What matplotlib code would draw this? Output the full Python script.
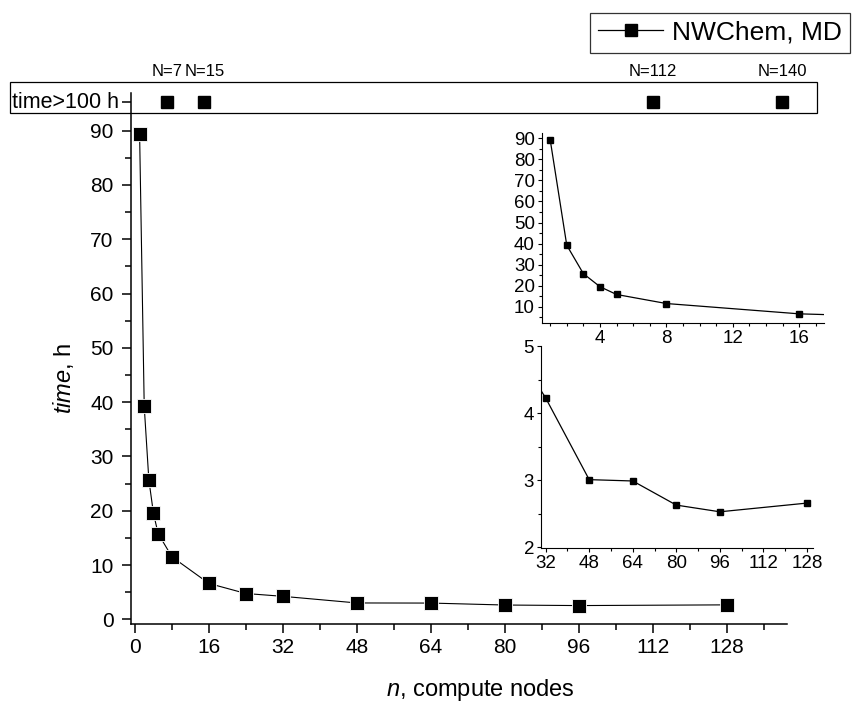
import matplotlib
matplotlib.use("Agg")
import matplotlib.pyplot as plt
from matplotlib.lines import Line2D
from matplotlib.patches import Rectangle
from matplotlib.ticker import MultipleLocator
import matplotlib.transforms as mtransforms

plt.rcParams["font.family"] = ["Liberation Sans", "DejaVu Sans"]
plt.rcParams["mathtext.fontset"] = "custom"
plt.rcParams["mathtext.rm"] = "Liberation Sans"
plt.rcParams["mathtext.it"] = "Liberation Sans:italic"

# ---- data ----
nodes = [1, 2, 3, 4, 5, 8, 16, 24, 32, 48, 64, 80, 96, 128]
hours = [89.4, 39.2, 25.7, 19.5, 15.8, 11.5, 6.6, 4.75, 4.23, 3.01, 2.99, 2.63, 2.53, 2.66]

# runs that took longer than 100 h
slow_nodes = [7, 15, 112, 140]
slow_labels = ["N=7", "N=15", "N=112", "N=140"]
slow_level = 95.2

W, H = 852, 707
fig = plt.figure(figsize=(W / 100, H / 100), dpi=100)


def px_axes(left, top, right, bottom):
    return fig.add_axes([left / W, 1 - bottom / H, (right - left) / W, (bottom - top) / H])


# ---- main plot ----
ax = px_axes(131, 92.7, 787, 623.7)
ax.plot(nodes, hours, color="black", lw=0.8, marker="s", ms=9.5,
        mfc="black", mec="white", mew=0.6, zorder=3)
ax.plot(slow_nodes, [slow_level] * len(slow_nodes), ls="none", marker="s", ms=9,
        color="black", clip_on=False, zorder=3)

ax.set_xlim(-0.86, 141)
ax.set_ylim(-0.81, 97.0)
ax.set_xticks(range(0, 129, 16))
ax.xaxis.set_minor_locator(MultipleLocator(8))
ax.set_yticks(list(range(0, 91, 10)) + [slow_level])
ax.set_yticklabels([str(v) for v in range(0, 91, 10)] + [""])
ax.set_yticks([v + 5 for v in range(0, 90, 10)], minor=True)
for s in ("top", "right"):
    ax.spines[s].set_visible(False)
for s in ("left", "bottom"):
    ax.spines[s].set_linewidth(1.1)
ax.tick_params(which="major", direction="out", length=6.5, width=1.1, labelsize=15)
ax.tick_params(axis="x", which="major", pad=4)
ax.tick_params(axis="y", which="major", pad=6)
ax.tick_params(which="minor", direction="out", length=4, width=1.1)
ax.set_facecolor("none")

# label of the >100 h row sits close to its tick
ytrans = mtransforms.blended_transform_factory(fig.transFigure, ax.transData)
ax.text(119 / W, slow_level, "time>100 h", transform=ytrans, ha="right",
        va="center", fontsize=15.5)

ax.set_xlabel(r"$\mathit{n}$, compute nodes", fontsize=17)
ax.xaxis.set_label_coords(0.532, -0.1249)
ax.xaxis.label.set_va("center")
ax.set_ylabel(r"$\mathit{time}$, h", fontsize=17)
ax.yaxis.set_label_coords((64 - 131) / 656, (623.7 - 378) / 531)
ax.yaxis.label.set_va("center")

# box around the >100 h row
fig.patches.append(Rectangle((10 / W, 1 - 113.3 / H), (817 - 10) / W, 31.6 / H,
                             transform=fig.transFigure, fill=False, ec="black",
                             lw=0.9, zorder=0))
trans = mtransforms.blended_transform_factory(ax.transData, fig.transFigure)
for xv, lab in zip(slow_nodes, slow_labels):
    ax.text(xv, 1 - 72 / H, lab, transform=trans, ha="center", va="center",
            fontsize=12)

# legend
handle = Line2D([], [], color="black", lw=0.9, marker="s", ms=8)
leg = fig.legend([handle], ["NWChem, MD"], loc="upper right",
                 bbox_to_anchor=(850 / W, 1 - 12.7 / H), frameon=True,
                 fancybox=False, edgecolor="black", fontsize=19,
                 handlelength=2.45, handletextpad=0.35, borderpad=0.3,
                 borderaxespad=0)
leg.get_frame().set_linewidth(0.9)


def style_inset(a):
    for s in ("top", "right"):
        a.spines[s].set_visible(False)
    for s in ("left", "bottom"):
        a.spines[s].set_linewidth(0.8)
    a.tick_params(which="major", direction="out", length=3, width=0.8,
                  labelsize=13.5, pad=2)
    a.tick_params(which="minor", direction="out", length=2, width=0.8)
    a.set_facecolor("none")


# ---- inset: 1..16 nodes ----
in1 = px_axes(541.7, 133.3, 824, 323.3)
in1.plot(nodes, hours, color="black", lw=0.9, marker="s", ms=4, mfc="black", mec="black")
in1.set_xlim(0.49, 17.5)
in1.set_ylim(2.1, 92.4)
in1.set_xticks([4, 8, 12, 16])
in1.xaxis.set_minor_locator(MultipleLocator(1))
in1.set_yticks(range(10, 91, 10))
in1.yaxis.set_minor_locator(MultipleLocator(5))
style_inset(in1)

# ---- inset: 32..128 nodes ----
in2 = px_axes(541, 346, 812.7, 548.3)
in2.plot(nodes, hours, color="black", lw=0.9, marker="s", ms=4, mfc="black", mec="black")
in2.set_xlim(30.3, 130.1)
in2.set_ylim(1.985, 5.005)
in2.set_xticks(range(32, 129, 16))
in2.xaxis.set_minor_locator(MultipleLocator(8))
in2.set_yticks([2, 3, 4, 5])
in2.yaxis.set_minor_locator(MultipleLocator(0.5))
style_inset(in2)

fig.savefig("out.png", dpi=100, facecolor="white")
